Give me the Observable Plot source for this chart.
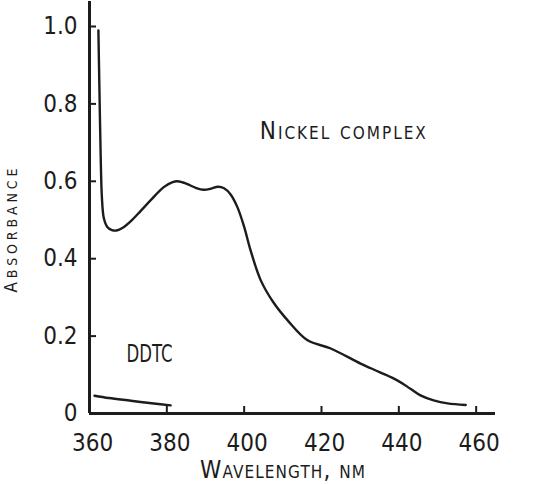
<!DOCTYPE html>
<html><head><meta charset="utf-8">
<script src="https://cdn.jsdelivr.net/npm/d3@7"></script>
<script src="https://cdn.jsdelivr.net/npm/@observablehq/plot@0.6"></script>
<style>
body{margin:0;background:#fff;}
</style>
</head><body><div id="chart"></div>
<script>
// Data
const nickelWavelength = [362.3, 362.6, 362.9, 363.2, 363.7, 364.6, 365.8, 367.0, 368.6, 370.7, 373.2, 375.9, 379.2, 381.5, 382.8, 385.0, 387.5, 389.5, 391.5, 393.2, 394.8, 396.5, 398.3, 400.0, 401.7, 404.3, 407.5, 411.3, 416.4, 422.4, 430.1, 435.0, 439.7, 443.0, 445.6, 449.0, 452.6, 457.3];
const nickelAbsorbance = [0.99, 0.82, 0.66, 0.56, 0.505, 0.482, 0.474, 0.473, 0.480, 0.497, 0.523, 0.552, 0.585, 0.598, 0.600, 0.594, 0.583, 0.578, 0.581, 0.586, 0.582, 0.566, 0.532, 0.482, 0.420, 0.344, 0.288, 0.240, 0.189, 0.168, 0.129, 0.107, 0.085, 0.064, 0.047, 0.034, 0.026, 0.022];
const ddtcWavelength = [361.3, 365.0, 370.7, 375.5, 381.0];
const ddtcAbsorbance = [0.046, 0.040, 0.033, 0.027, 0.021];

const xTicks = [360, 380, 400, 420, 440, 460];
const yTicks = [0, 0.2, 0.4, 0.6, 0.8, 1.0];
const yTickLabels = ["0", "0.2", "0.4", "0.6", "0.8", "1.0"];

const seriesLabels = ["Nickel complex", "DDTC"];
const seriesLabelWavelength = [425.5, 375.5];
const seriesLabelAbsorbance = [0.729, 0.152];

const xTitle = "Wavelength, nm";
const yTitle = "Absorbance";

const nickel = nickelWavelength.map((x, i) => ({x, y: nickelAbsorbance[i]}));
const ddtc = ddtcWavelength.map((x, i) => ({x, y: ddtcAbsorbance[i]}));
const labels = seriesLabels.map((t, i) => ({t, x: seriesLabelWavelength[i], y: seriesLabelAbsorbance[i]}));

const font = "'Liberation Sans Narrow', 'DejaVu Sans Condensed', 'DejaVu Sans Mono', sans-serif";
const ink = "#1c1c1c";

const chart = Plot.plot({
  width: 557,
  height: 484,
  marginLeft: 89,
  marginRight: 62,
  marginTop: 1,
  marginBottom: 71,
  style: {fontFamily: font, fontSize: "24px", color: ink, background: "#fff"},
  x: {domain: [360, 465], label: null},
  y: {domain: [0, 1.0646], label: null},
  marks: [
    Plot.axisX({ticks: xTicks, tickSize: 0, tickPadding: 20, dx: 3, tickFormat: d => String(d), label: null}),
    Plot.axisY({ticks: yTicks, tickSize: 0, tickPadding: 12, tickFormat: d => yTickLabels[yTicks.indexOf(d)], label: null}),
    Plot.tickX(xTicks, {x: d => d, insetTop: 405, stroke: ink, strokeWidth: 2}),
    Plot.tickY(yTicks, {y: d => d, insetRight: 399, stroke: ink, strokeWidth: 2}),
    Plot.ruleX([360], {stroke: ink, strokeWidth: 3}),
    Plot.ruleY([0], {stroke: ink, strokeWidth: 3}),
    Plot.line(nickel, {x: "x", y: "y", curve: "catmull-rom", stroke: ink, strokeWidth: 2.4}),
    Plot.line(ddtc, {x: "x", y: "y", curve: "catmull-rom", stroke: ink, strokeWidth: 2.4}),
    Plot.text(labels, {x: "x", y: "y", text: "t", fontVariant: "small-caps", fill: ink}),
    Plot.text([xTitle], {frameAnchor: "bottom", dx: -10, dy: 47, lineAnchor: "top", fontVariant: "small-caps", fill: ink}),
    Plot.text([yTitle], {frameAnchor: "left", dx: -78, dy: 23, rotate: -90, textAnchor: "middle", fontSize: 17, fill: ink})
  ]
});
document.getElementById("chart").appendChild(chart);

// fit the typewriter-style label widths seen in the reference
const fitLength = {"Nickel complex": [166, "spacing"], "DDTC": [46, "spacingAndGlyphs"], "Wavelength, nm": [165, "spacing"]};
d3.select(chart).selectAll("text").each(function() {
  const txt = this.textContent;
  if (fitLength[txt]) {
    this.setAttribute("textLength", fitLength[txt][0]);
    this.setAttribute("lengthAdjust", fitLength[txt][1]);
  }
  if (txt === yTitle) {
    this.textContent = "";
    const ns = "http://www.w3.org/2000/svg";
    const a = document.createElementNS(ns, "tspan");
    a.textContent = yTitle[0].toUpperCase();
    a.setAttribute("font-size", 17);
    const b = document.createElementNS(ns, "tspan");
    b.textContent = yTitle.slice(1).toUpperCase();
    b.setAttribute("font-size", 14);
    this.appendChild(a);
    this.appendChild(b);
    this.setAttribute("textLength", 124);
    this.setAttribute("lengthAdjust", "spacing");
  }
});
</script>
</body></html>
